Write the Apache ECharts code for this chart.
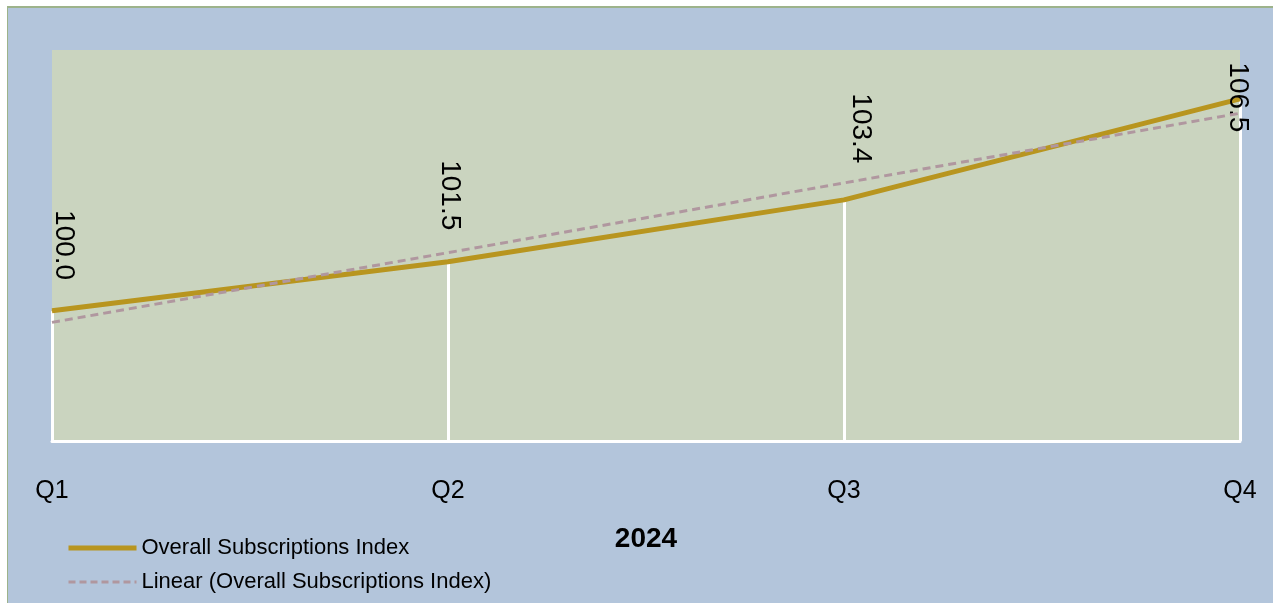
<!DOCTYPE html>
<html>
<head>
<meta charset="utf-8">
<script src="https://cdn.jsdelivr.net/npm/echarts@6/dist/echarts.min.js"></script>
<style>
  html, body { margin: 0; padding: 0; background: #ffffff; width: 1273px; height: 603px; overflow: hidden; }
  #frame { position: absolute; left: 7px; top: 6px; width: 1266px; height: 597px; background: #9db38b; }
  #chart { position: absolute; left: 8px; top: 8px; width: 1265px; height: 595px; }
</style>
</head>
<body>
<div id="frame"></div>
<div id="chart"></div>
<script>
const categories = ['Q1', 'Q2', 'Q3', 'Q4'];
const indexValues = [100.0, 101.5, 103.4, 106.5];
const seriesName = 'Overall Subscriptions Index';
const trendName = 'Linear (Overall Subscriptions Index)';
const axisTitle = '2024';
const yMin = 96, yMax = 108;

// Excel-style linear trendline (least squares over category positions 1..n)
function linearTrend(vals) {
  const n = vals.length;
  const xs = vals.map((_, i) => i + 1);
  const mx = xs.reduce((a, b) => a + b, 0) / n;
  const my = vals.reduce((a, b) => a + b, 0) / n;
  let num = 0, den = 0;
  for (let i = 0; i < n; i++) { num += (xs[i] - mx) * (vals[i] - my); den += (xs[i] - mx) ** 2; }
  const slope = num / den;
  return xs.map(x => my + slope * (x - mx));
}
const trendValues = linearTrend(indexValues);

// label nudges in screen pixels [dx, dy] (style only)
const labelNudge = [[12, -30], [2, -31], [17, -36], [-2, 34]];
// rotated label (-90deg): local offset = [dy, -dx]
const toLocal = ([dx, dy]) => [dy, -dx];

const FONT = '"Liberation Sans", Arial, sans-serif';
const chart = echarts.init(document.getElementById('chart'), null, { renderer: 'canvas' });

chart.setOption({
  backgroundColor: '#b3c5db',
  animation: false,
  textStyle: { fontFamily: FONT, color: '#000' },
  grid: {
    left: 44, top: 42, width: 1188, height: 391,
    show: true, backgroundColor: '#cad4bf', borderWidth: 0
  },
  legend: {
    orient: 'vertical',
    left: 53, top: 524,
    itemWidth: 68, itemHeight: 14, itemGap: 12,
    data: [
      { name: seriesName, lineStyle: { width: 5, color: '#b8951f' } },
      { name: trendName, lineStyle: { width: 3, color: '#b0979f', type: [7, 4] } }
    ],
    itemStyle: { opacity: 0 },
    textStyle: { fontFamily: FONT, fontSize: 22, color: '#000' }
  },
  xAxis: {
    type: 'category',
    data: categories,
    boundaryGap: false,
    name: axisTitle,
    nameLocation: 'middle',
    nameGap: 84,
    nameTextStyle: { fontFamily: FONT, fontSize: 28, fontWeight: 'bold', color: '#000' },
    axisLine: { lineStyle: { color: '#ffffff', width: 3 } },
    axisTick: { show: false },
    axisLabel: { margin: 38, fontSize: 25, color: '#000', fontFamily: FONT },
    splitLine: { show: false }
  },
  yAxis: {
    type: 'value',
    min: yMin, max: yMax,
    show: false,
    splitLine: { show: false }
  },
  series: [
    {
      name: seriesName,
      type: 'line',
      data: indexValues.map((v, i) => ({
        value: v,
        label: { offset: toLocal(labelNudge[i]) }
      })),
      symbol: 'circle',
      symbolSize: 1,
      itemStyle: { color: '#b8951f' },
      lineStyle: { color: '#b8951f', width: 5 },
      z: 3,
      label: {
        show: true,
        position: 'top',
        distance: 0,
        rotate: -90,
        align: 'right',
        verticalAlign: 'middle',
        fontFamily: FONT,
        fontSize: 28,
        color: '#000',
        formatter: p => Number(p.value).toFixed(1)
      },
      markLine: {
        silent: true,
        symbol: 'none',
        label: { show: false },
        z: 1,
        lineStyle: { color: '#ffffff', width: 3, type: 'solid' },
        data: indexValues.map((v, i) => [
          { coord: [categories[i], v] },
          { coord: [categories[i], yMin] }
        ])
      }
    },
    {
      name: trendName,
      type: 'line',
      data: trendValues,
      symbol: 'none',
      itemStyle: { color: '#b0979f' },
      lineStyle: { color: '#b0979f', width: 3, type: [8, 5] },
      z: 4
    }
  ]
});
</script>
</body>
</html>
